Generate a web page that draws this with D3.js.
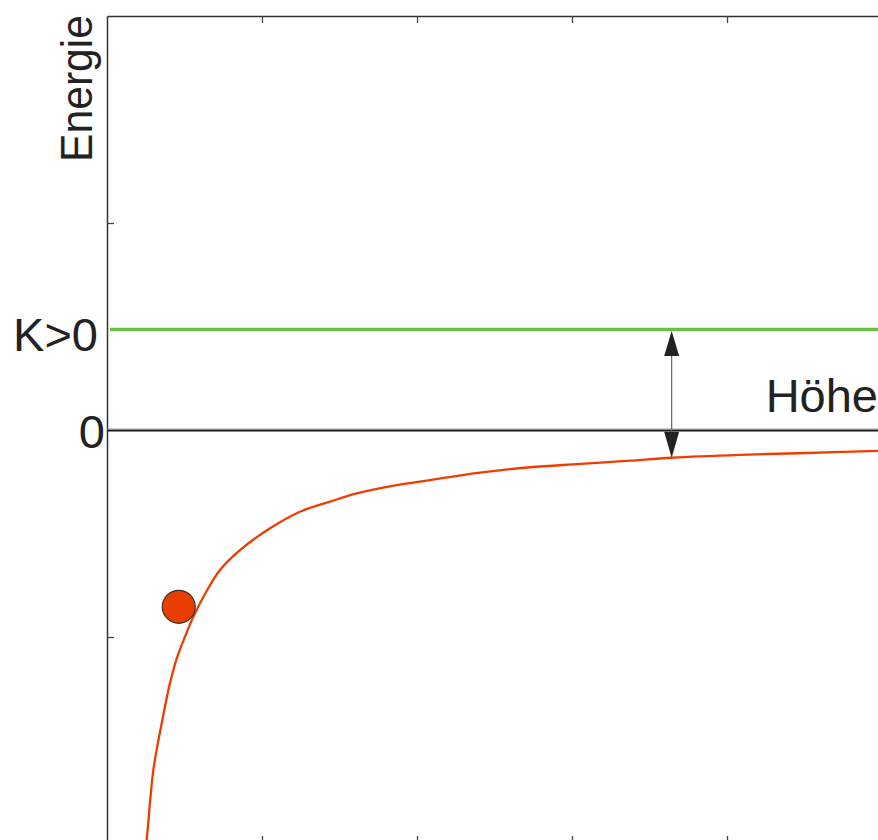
<!DOCTYPE html>
<html>
<head>
<meta charset="utf-8">
<script src="https://cdn.jsdelivr.net/npm/d3@7"></script>
<style>
  html, body { margin: 0; padding: 0; background: #fff; }
  svg { display: block; }
  text { font-family: "Liberation Sans", Arial, sans-serif; fill: #222; }
</style>
</head>
<body>
<svg id="chart" width="878" height="840"></svg>
<script>
// Potential energy curve (distance, energy) in axis units
const curveX = [0.240, 0.256, 0.299, 0.353, 0.406, 0.454, 0.503, 0.557, 0.643, 0.729, 0.858,
                1.052, 1.245, 1.439, 1.611, 1.869, 2.084, 2.406, 2.729, 3.052, 3.374,
                3.643, 4.084, 4.514, 4.974, 5.000];
const curveY = [-2.080, -1.981, -1.643, -1.417, -1.224, -1.095, -0.999, -0.902, -0.778, -0.676, -0.580,
                -0.475, -0.395, -0.346, -0.306, -0.266, -0.242, -0.206, -0.180, -0.164, -0.148,
                -0.134, -0.120, -0.111, -0.101, -0.100];

// Body position and total energy level
const bodyX = [0.463];
const bodyY = [-0.854];
const energyLevel = [0.486];
const arrowX = [3.643];

// Axis ticks and labels
const xTicks = [1, 2, 3, 4];
const yTicks = [-1, 1];
const levelLabels = ["K>0", "0"];
const yLabel = "Energie";
const gapLabel = "Höhe";

const W = 878, H = 840;
const svg = d3.select("#chart");

const x = d3.scaleLinear().domain([0, 5]).range([107, 882]);
const y = d3.scaleLinear().domain([-2, 2]).range([844, 16]);

svg.append("defs").append("clipPath").attr("id", "plotClip")
  .append("rect").attr("x", x(0)).attr("y", y(2)).attr("width", W - x(0)).attr("height", H - y(2));

// Frame: left and top border with inward ticks
const axisStyle = g => {
  g.select(".domain").attr("stroke", "#333").attr("stroke-width", 1.5);
  g.selectAll(".tick line").attr("stroke", "#444").attr("stroke-width", 1.3);
  g.selectAll(".tick text").remove();
};
svg.append("g").attr("transform", `translate(${x(0)},0)`)
  .call(d3.axisLeft(y).tickValues(yTicks).tickSize(-7).tickSizeOuter(0).tickFormat(""))
  .call(axisStyle);
svg.append("g").attr("transform", `translate(0,${y(2)})`)
  .call(d3.axisTop(x).tickValues(xTicks).tickSize(-7).tickSizeOuter(0).tickFormat(""))
  .call(axisStyle);
svg.append("g").attr("transform", `translate(0,${y(-2)})`)
  .call(d3.axisBottom(x).tickValues(xTicks).tickSize(-8).tickSizeOuter(0).tickFormat(""))
  .call(axisStyle);

const plot = svg.append("g").attr("clip-path", "url(#plotClip)");

// Zero level (thin grey edge over a darker line)
plot.append("line")
  .attr("x1", x(0) - 2).attr("x2", W)
  .attr("y1", y(0) + 0.5).attr("y2", y(0) + 0.5)
  .attr("stroke", "#1a1a1a").attr("stroke-width", 2);
plot.append("line")
  .attr("x1", x(0) - 2).attr("x2", W)
  .attr("y1", y(0) - 1).attr("y2", y(0) - 1)
  .attr("stroke", "#888").attr("stroke-width", 0.8);

// Total energy level
plot.append("line")
  .attr("x1", x(0) + 3).attr("x2", W)
  .attr("y1", y(energyLevel[0])).attr("y2", y(energyLevel[0]))
  .attr("stroke", "#6cc03f").attr("stroke-width", 3.5);

// Potential curve
const pts = curveX.map((d, i) => [d, curveY[i]]);
plot.append("path")
  .datum(pts)
  .attr("fill", "none")
  .attr("stroke", "#ee3d00")
  .attr("stroke-width", 2.3)
  .attr("d", d3.line().x(d => x(d[0])).y(d => y(d[1])).curve(d3.curveCatmullRom.alpha(0.5)));

// Body
plot.selectAll("circle.body")
  .data(bodyX.map((d, i) => [d, bodyY[i]]))
  .join("circle")
  .attr("class", "body")
  .attr("cx", d => x(d[0])).attr("cy", d => y(d[1]))
  .attr("r", 16.5)
  .attr("fill", "#e83e00")
  .attr("stroke", "#333").attr("stroke-width", 1.2);

// Double arrow between curve and energy level
const ax = x(arrowX[0]);
const yTop = y(energyLevel[0]) + 1.5;
const yBot = y(d3.scaleLinear().domain(curveX).range(curveY)(arrowX[0]));
plot.append("line")
  .attr("x1", ax).attr("x2", ax).attr("y1", yTop + 10).attr("y2", yBot - 10)
  .attr("stroke", "#666").attr("stroke-width", 1.2);
plot.append("path")
  .attr("d", `M${ax},${yTop} L${ax - 7.5},${yTop + 25} L${ax + 7.5},${yTop + 25} Z`)
  .attr("fill", "#222");
plot.append("path")
  .attr("d", `M${ax},${yBot} L${ax - 7.5},${yBot - 26} L${ax + 7.5},${yBot - 26} Z`)
  .attr("fill", "#222");

// Labels
svg.append("text")
  .attr("x", 98).attr("y", y(energyLevel[0]) + 22)
  .attr("text-anchor", "end").attr("font-size", 47)
  .text(levelLabels[0]);
svg.append("text")
  .attr("x", 105).attr("y", y(0) + 18)
  .attr("text-anchor", "end").attr("font-size", 47)
  .text(levelLabels[1]);
svg.append("text")
  .attr("x", 878).attr("y", 412)
  .attr("text-anchor", "end").attr("font-size", 47)
  .text(gapLabel);
svg.append("text")
  .attr("transform", "translate(92,162) rotate(-90)")
  .attr("font-size", 45)
  .attr("textLength", 147).attr("lengthAdjust", "spacingAndGlyphs")
  .text(yLabel);
</script>
</body>
</html>
